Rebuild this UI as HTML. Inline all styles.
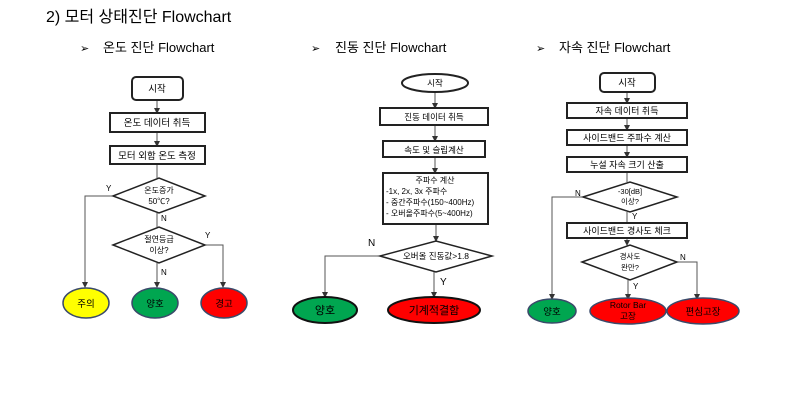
<!DOCTYPE html>
<html><head><meta charset="utf-8">
<style>
html,body{margin:0;padding:0;background:#fff;}
svg{display:block;}
text{font-family:"Liberation Sans","Noto Sans CJK KR",sans-serif;fill:#000;}
</style></head><body>
<svg width="800" height="406" viewBox="0 0 800 406" xmlns="http://www.w3.org/2000/svg">
<defs>
<marker id="a" markerWidth="6" markerHeight="6" refX="5" refY="3" orient="auto" markerUnits="userSpaceOnUse">
<path d="M0,0 L6,3 L0,6 z" fill="#333"/></marker>
</defs>
<text x="46" y="22" font-size="16">2) 모터 상태진단 Flowchart</text>
<text x="80" y="52" font-size="11">➢</text><text x="103" y="52" font-size="13">온도 진단 Flowchart</text>
<text x="311" y="52" font-size="11">➢</text><text x="335" y="52" font-size="13">진동 진단 Flowchart</text>
<text x="536" y="52" font-size="11">➢</text><text x="559" y="52" font-size="13">자속 진단 Flowchart</text>

<g stroke="#555" stroke-width="1" fill="none">
<line x1="157" y1="100" x2="157" y2="113" marker-end="url(#a)"/>
<line x1="157" y1="132" x2="157" y2="146" marker-end="url(#a)"/>
<line x1="157" y1="164" x2="157" y2="178"/>
<line x1="157" y1="213" x2="157" y2="227"/>
<polyline points="113,196 85,196 85,287" marker-end="url(#a)"/>
<line x1="157" y1="263" x2="157" y2="287" marker-end="url(#a)"/>
<polyline points="205,245 223,245 223,287" marker-end="url(#a)"/>
<line x1="435" y1="92" x2="435" y2="108" marker-end="url(#a)"/>
<line x1="435" y1="125" x2="435" y2="141" marker-end="url(#a)"/>
<line x1="435" y1="157" x2="435" y2="173" marker-end="url(#a)"/>
<line x1="436" y1="224" x2="436" y2="241" marker-end="url(#a)"/>
<polyline points="380,256 325,256 325,297" marker-end="url(#a)"/>
<line x1="434" y1="272" x2="434" y2="297" marker-end="url(#a)"/>
<line x1="627" y1="92" x2="627" y2="103" marker-end="url(#a)"/>
<line x1="627" y1="118" x2="627" y2="130" marker-end="url(#a)"/>
<line x1="627" y1="145" x2="627" y2="157" marker-end="url(#a)"/>
<line x1="627" y1="172" x2="627" y2="182"/>
<line x1="627" y1="212" x2="627" y2="223"/>
<line x1="627" y1="238" x2="627" y2="245" marker-end="url(#a)"/>
<polyline points="583,197 552,197 552,299" marker-end="url(#a)"/>
<line x1="628" y1="280" x2="628" y2="299" marker-end="url(#a)"/>
<polyline points="677,262 697,262 697,299" marker-end="url(#a)"/>
</g>

<g stroke="#222" stroke-width="2" fill="#fff">
<rect x="132" y="77" width="51" height="23" rx="4"/>
<rect x="110" y="113" width="95" height="19"/>
<rect x="110" y="146" width="95" height="18"/>
<polygon points="113,196 159,178 205,196 159,213" stroke-width="1.5"/>
<polygon points="113,245 159,227 205,245 159,263" stroke-width="1.5"/>
<ellipse cx="435" cy="83" rx="33" ry="9"/>
<rect x="380" y="108" width="108" height="17"/>
<rect x="383" y="141" width="102" height="16"/>
<rect x="383" y="173" width="105" height="51"/>
<polygon points="380,256 436,241 492,256 436,272" stroke-width="1.5"/>
<rect x="600" y="73" width="55" height="19" rx="4"/>
<rect x="567" y="103" width="120" height="15"/>
<rect x="567" y="130" width="120" height="15"/>
<rect x="567" y="157" width="120" height="15"/>
<polygon points="583,197 630,182 677,197 630,212" stroke-width="1.5"/>
<rect x="567" y="223" width="120" height="15"/>
<polygon points="582,262 630,245 677,262 630,280" stroke-width="1.5"/>
</g>

<g stroke="#3a4a6a" stroke-width="1.5">
<ellipse cx="86" cy="303" rx="23" ry="15" fill="#ffff00"/>
<ellipse cx="155" cy="303" rx="23" ry="15" fill="#00a650"/>
<ellipse cx="224" cy="303" rx="23" ry="15" fill="#ff0000"/>
<ellipse cx="325" cy="310" rx="32" ry="13" fill="#00a650" stroke="#111" stroke-width="2"/>
<ellipse cx="434" cy="310" rx="46" ry="13" fill="#ff0000" stroke="#111" stroke-width="2"/>
<ellipse cx="552" cy="311" rx="24" ry="12" fill="#00a650"/>
<ellipse cx="628" cy="311" rx="38" ry="13" fill="#ff0000"/>
<ellipse cx="703" cy="311" rx="36" ry="13" fill="#ff0000"/>
</g>

<g font-size="9.5" text-anchor="middle" style="fill:#222">
<text x="157" y="92">시작</text>
<text x="157" y="126">온도 데이터 취득</text>
<text x="157" y="159">모터 외함 온도 측정</text>
<text x="159" y="193" font-size="8">온도증가</text>
<text x="159" y="204" font-size="8">50℃?</text>
<text x="159" y="242" font-size="8">절연등급</text>
<text x="159" y="253" font-size="8">이상?</text>
<text x="86" y="307">주의</text>
<text x="155" y="307">양호</text>
<text x="224" y="307">경고</text>

<text x="435" y="86" font-size="8.5">시작</text>
<text x="434" y="120" font-size="8.5">진동 데이터 취득</text>
<text x="434" y="153" font-size="8.5">속도 및 슬립계산</text>
<text x="435" y="183" font-size="8">주파수 계산</text>
<text x="386" y="194" font-size="8" text-anchor="start">-1x, 2x, 3x 주파수</text>
<text x="386" y="205" font-size="8" text-anchor="start">- 중간주파수(150~400Hz)</text>
<text x="386" y="216" font-size="8" text-anchor="start">- 오버올주파수(5~400Hz)</text>
<text x="436" y="259" font-size="8.5">오버올 진동값&gt;1.8</text>
<text x="325" y="314" font-size="11">양호</text>
<text x="434" y="314" font-size="11">기계적결함</text>

<text x="627" y="86">시작</text>
<text x="627" y="114" font-size="9">자속 데이터 취득</text>
<text x="627" y="141" font-size="9">사이드밴드 주파수 계산</text>
<text x="627" y="168" font-size="9">누설 자속 크기 산출</text>
<text x="630" y="194" font-size="7.5">-30[dB]</text>
<text x="630" y="204" font-size="7.5">이상?</text>
<text x="627" y="234" font-size="9">사이드밴드 경사도 체크</text>
<text x="630" y="259" font-size="7.5">경사도</text>
<text x="630" y="270" font-size="7.5">완만?</text>
<text x="552" y="315">양호</text>
<text x="628" y="308" font-size="8.5">Rotor Bar</text>
<text x="628" y="319" font-size="8.5">고장</text>
<text x="703" y="315">편심고장</text>
</g>

<g font-size="8">
<text x="106" y="191">Y</text>
<text x="161" y="221">N</text>
<text x="161" y="275">N</text>
<text x="205" y="238">Y</text>
<text x="368" y="246" font-size="10">N</text>
<text x="440" y="285" font-size="10">Y</text>
<text x="575" y="196">N</text>
<text x="632" y="219">Y</text>
<text x="680" y="260">N</text>
<text x="633" y="289">Y</text>
</g>
</svg>
</body></html>
